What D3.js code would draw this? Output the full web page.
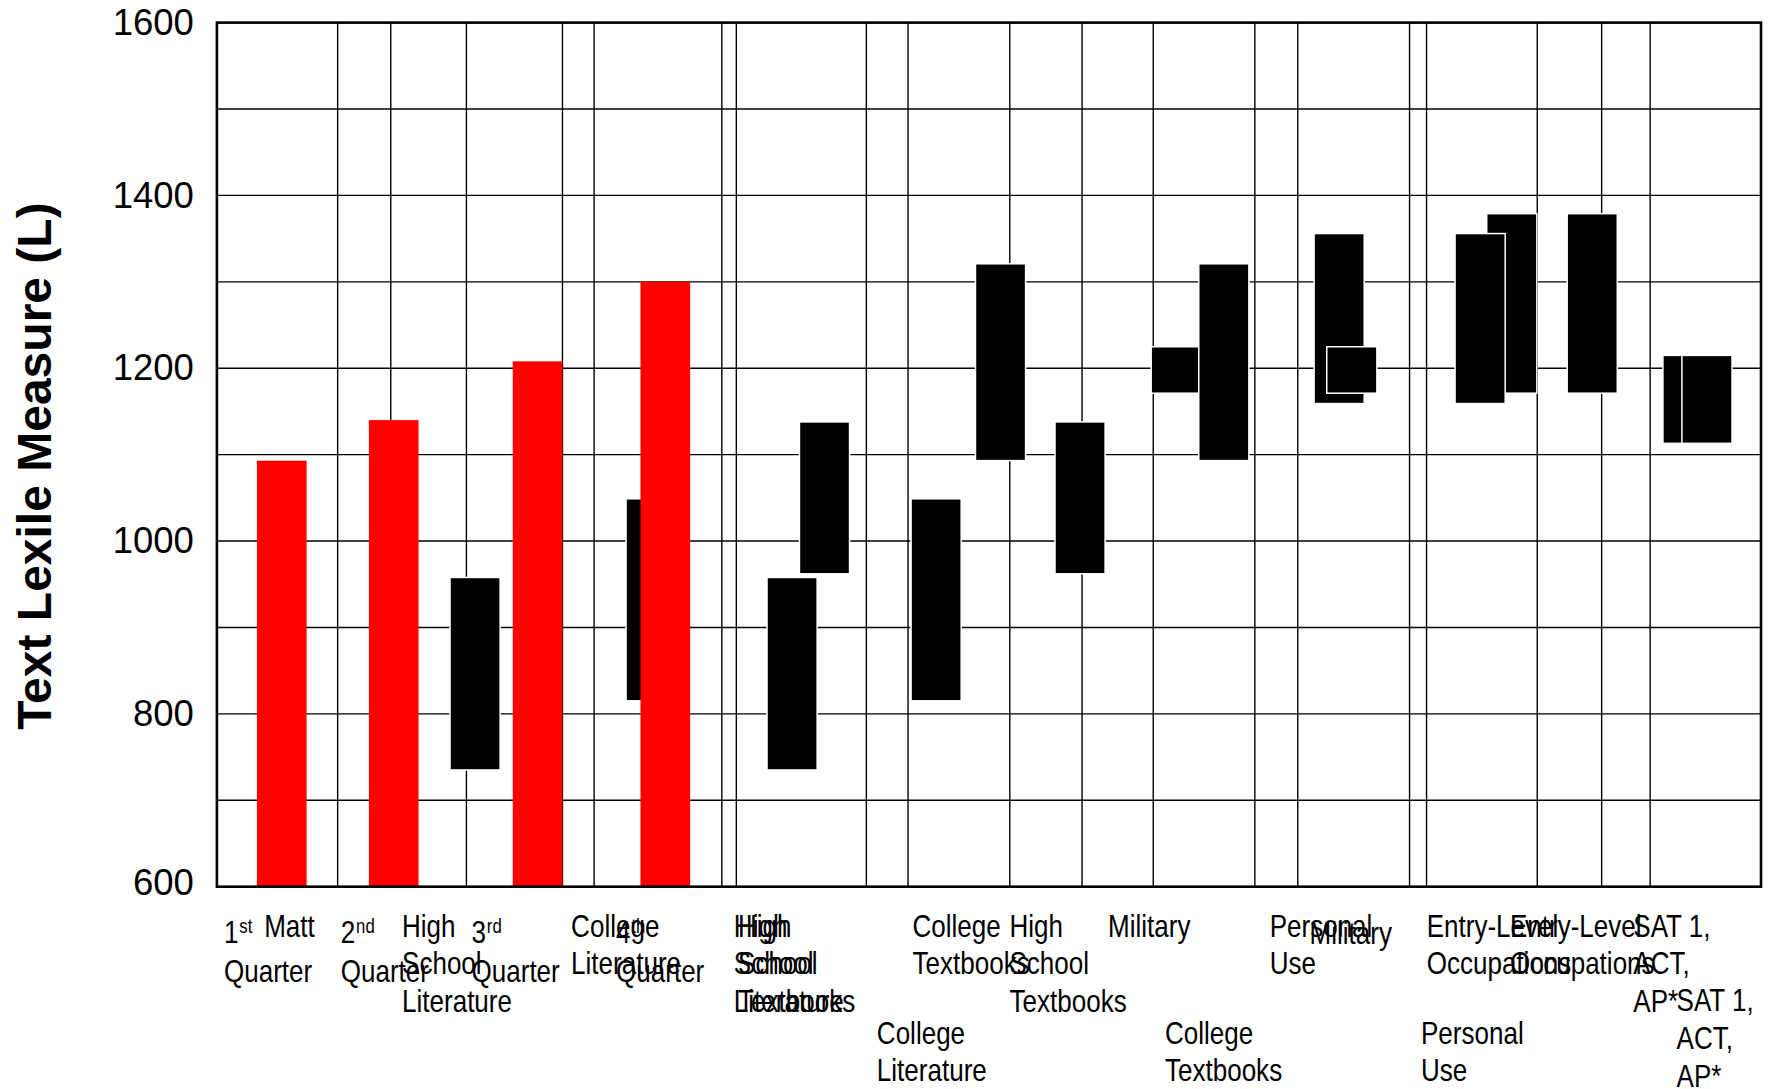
<!DOCTYPE html>
<html><head><meta charset="utf-8">
<script src="https://cdn.jsdelivr.net/npm/d3@7"></script>
<style>html,body{margin:0;padding:0;background:#fff;} svg{display:block}</style>
</head><body><svg id="c" width="1771" height="1089"></svg>
<script>
// ---------- data ----------
const yTicks = [600, 800, 1000, 1200, 1400, 1600];
const yGrid = [600, 700, 800, 900, 1000, 1100, 1200, 1300, 1400, 1500, 1600];

// vertical grid lines (x position in slot units 0..100)
const xGrid = [7.82, 11.26, 16.16, 22.38, 24.43, 32.70, 33.64, 42.06, 44.76, 51.35,
               56.03, 60.64, 67.22, 70.00, 77.24, 78.34, 85.51, 89.68, 92.82];

// red bars: quarters
const quarterNums = ["1", "2", "3", "4"];
const quarterSups = ["st", "nd", "rd", "th"];
const quarterValues = [1093, 1140, 1208, 1300];
const quarterPos = [4.20, 11.45, 20.77, 29.04];
const quarterLabelPos = [0.46, 8.02, 16.49, 25.85];

// black floating range bars (draw order)
const rangeCategories = [
  "College Literature", "Military", "Personal Use", "Entry-Level Occupations", "SAT 1, ACT, AP*",
  "High School Literature", "High School Literature", "High School Textbooks", "College Literature",
  "College Textbooks", "High School Textbooks", "College Textbooks", "Military", "Personal Use",
  "Entry-Level Occupations", "SAT 1, ACT, AP*"];
const rangeLow  = [816, 1172, 1160, 1172, 1114, 736, 736, 963, 816, 1094, 963, 1094, 1172, 1160, 1172, 1114];
const rangeHigh = [1048, 1224, 1355, 1378, 1214, 957, 957, 1137, 1048, 1320, 1137, 1320, 1224, 1355, 1378, 1214];
const rangePos  = [28.12, 62.13, 72.68, 83.86, 95.27, 16.72, 37.25, 39.35, 46.58, 50.75, 55.90, 65.21, 73.50, 81.81, 89.07, 96.50];
const rangeLayer = [0, 0, 0, 0, 0, 1, 1, 1, 1, 1, 1, 1, 1, 1, 1, 1];

// category labels below the axis
const labelTexts = ["Matt", "High|School|Literature", "College|Literature", "High|School|Literature",
  "High|School|Textbooks", "College|Textbooks", "High|School|Textbooks", "Military", "Personal|Use",
  "Military", "Entry-Level|Occupations", "Entry-Level|Occupations", "SAT 1,|ACT,|AP*",
  "College|Literature", "College|Textbooks", "Personal|Use", "SAT 1,|ACT,|AP*"];
const labelPos = [3.06, 11.99, 22.94, 33.48, 33.75, 45.05, 51.33, 57.71, 68.18, 70.76,
  78.35, 83.74, 91.73, 42.74, 61.40, 77.98, 94.53];
const labelRow = [0, 0, 0, 0, 0, 0, 0, 0, 0, 1, 0, 0, 0, 3, 3, 3, 2];

const yTitle = "Text Lexile Measure (L)";

// ---------- layout ----------
const W = 1771, H = 1089;
const L = 216.9, R = 1761, T = 22.6, B = 886.7;
const svg = d3.select("#c");
svg.append("rect").attr("width", W).attr("height", H).attr("fill", "#fff");

const x = d3.scaleLinear().domain([0, 100]).range([L, R]);
const y = d3.scaleLinear().domain([600, 1600]).range([B, T]);
const redW = 49.7, blackW = 48.6;
const rowBase = [50, 57.5, 124.3, 157]; // baseline offsets below plot bottom
const lineH = 37.8;
const narrow = 0.84;
const fontMain = "'Liberation Sans', Arial, Helvetica, sans-serif";

// grid
const g = svg.append("g");
g.selectAll("line.h").data(yGrid).enter().append("line")
  .attr("x1", L).attr("x2", R).attr("y1", d => y(d)).attr("y2", d => y(d))
  .attr("stroke", "#000").attr("stroke-width", 1.4);
g.selectAll("line.v").data(xGrid).enter().append("line")
  .attr("y1", T).attr("y2", B).attr("x1", d => x(d)).attr("x2", d => x(d))
  .attr("stroke", "#000").attr("stroke-width", 1.4);

function drawRange(layer) {
  const idx = d3.range(rangeLow.length).filter(i => rangeLayer[i] === layer);
  const sel = svg.append("g").selectAll("g").data(idx).enter().append("g");
  sel.append("rect")
    .attr("x", i => x(rangePos[i]) - blackW / 2 - 1.5)
    .attr("y", i => y(rangeHigh[i]) - 1.5)
    .attr("width", blackW + 3)
    .attr("height", i => y(rangeLow[i]) - y(rangeHigh[i]) + 3)
    .attr("fill", "#fff");
  sel.append("rect")
    .attr("x", i => x(rangePos[i]) - blackW / 2)
    .attr("y", i => y(rangeHigh[i]))
    .attr("width", blackW)
    .attr("height", i => y(rangeLow[i]) - y(rangeHigh[i]))
    .attr("fill", "#000");
}

drawRange(0);

// red bars
svg.append("g").selectAll("rect").data(quarterValues).enter().append("rect")
  .attr("x", (d, i) => x(quarterPos[i]) - redW / 2)
  .attr("y", d => y(d))
  .attr("width", redW)
  .attr("height", d => y(600) - y(d))
  .attr("fill", "#ff0000");

drawRange(1);

// frame
svg.append("rect").attr("x", L).attr("y", T).attr("width", R - L).attr("height", B - T)
  .attr("fill", "none").attr("stroke", "#000").attr("stroke-width", 2.6);

// y axis labels
const ya = svg.append("g").attr("transform", `translate(${L},0)`)
  .call(d3.axisLeft(y).tickValues(yTicks).tickSize(0).tickPadding(23).tickFormat(d3.format("d")));
ya.select(".domain").remove();
ya.selectAll("text").attr("font-family", fontMain).attr("font-size", 36.5).attr("fill", "#000");
ya.selectAll(".tick").filter(d => d === 600).select("text").attr("y", -4);

// y title
svg.append("text")
  .attr("transform", "translate(34,466) rotate(-90)")
  .attr("text-anchor", "middle").attr("dominant-baseline", "central")
  .attr("font-family", fontMain).attr("font-weight", "bold").attr("font-size", 48)
  .attr("fill", "#000").text(yTitle);

// quarter labels
const ql = svg.append("g").selectAll("text").data(quarterNums).enter().append("text")
  .attr("transform", (d, i) => `translate(${x(quarterLabelPos[i])},${B + 56.6}) scale(${narrow},1)`)
  .attr("font-family", fontMain).attr("font-size", 31).attr("fill", "#000");
ql.append("tspan").attr("x", 0).text(d => d);
ql.append("tspan").attr("font-size", 20).attr("dy", -10).attr("dx", 1).text((d, i) => quarterSups[i]);
ql.append("tspan").attr("x", 0).attr("dy", 10 + 38.4).text("Quarter");

// category labels
const cl = svg.append("g").selectAll("text").data(labelTexts).enter().append("text")
  .attr("transform", (d, i) => `translate(${x(labelPos[i])},${B + rowBase[labelRow[i]]}) scale(${narrow},1)`)
  .attr("font-family", fontMain).attr("font-size", 31).attr("fill", "#000");
cl.selectAll("tspan").data(d => d.split("|")).enter().append("tspan")
  .attr("x", 0).attr("y", (d, j) => j * lineH).text(d => d);
</script>
</body></html>
